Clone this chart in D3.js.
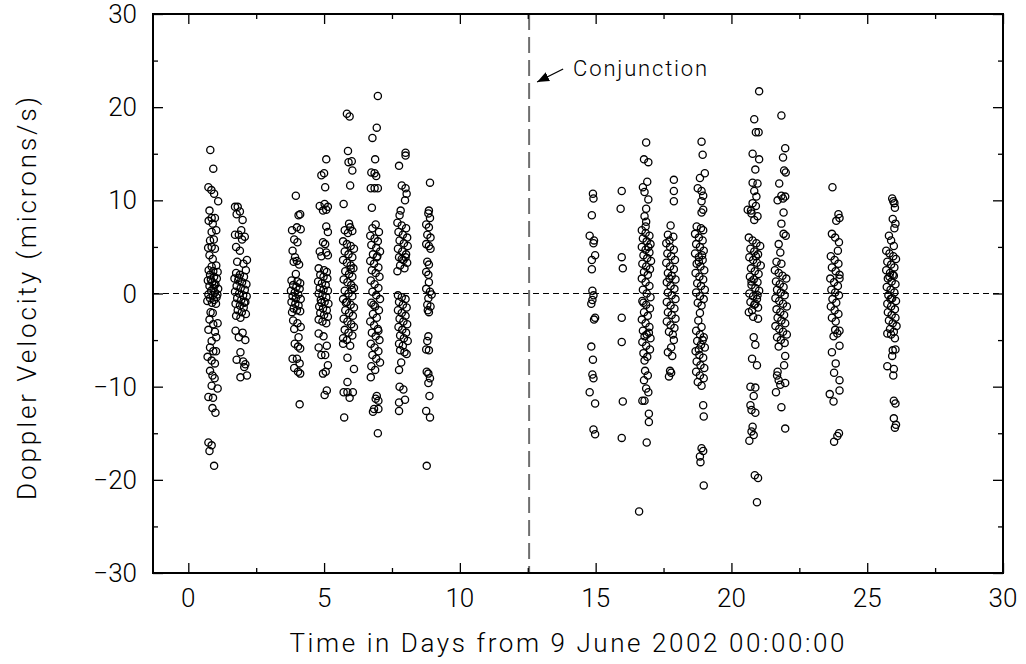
<!DOCTYPE html>
<html>
<head>
<meta charset="utf-8">
<title>Doppler Velocity</title>
<script src="https://cdn.jsdelivr.net/npm/d3@7"></script>
<style>
	body { margin: 0; background: #fff; }
	text { font-family: Roboto, "Liberation Sans", sans-serif; font-weight: 300; fill: #000; }
</style>
</head>
<body>
<div id="vis"></div>
<script type="text/javascript">
// one array per daily tracking pass: [time in days, doppler velocity in microns/s]
var day1 = [[0.81,15.4],[0.92,13.4],[0.74,11.4],[0.85,11.1],[0.95,10.7],[1.1,9.9],[0.78,8.9],[0.86,8.1],[0.98,8.1],[0.75,7.8],[0.9,7.5],[1.03,6.8],[0.86,6.6],
	[0.8,5.7],[0.94,5.8],[0.86,5.0],[0.73,4.9],[0.98,4.8],[0.78,4.1],[0.9,3.7],[1.03,3.0],[0.86,2.9],[0.75,2.5],[0.92,2.4],[1.08,2.3],
	[0.8,2.0],[0.95,1.8],[1.05,1.6],[0.72,1.4],[0.88,1.2],[1.0,1.0],[0.78,0.8],[0.93,0.6],[1.1,0.5],[0.84,0.3],[0.98,0.1],[0.74,-0.1],[0.9,-0.2],[1.04,-0.4],
	[0.8,-0.5],[0.95,-0.7],[0.7,-0.8],[0.87,-1.0],[1.02,-1.1],[0.83,1.5],[0.96,0.9],[1.07,-0.1],
	[0.82,-2.0],[0.9,-2.1],[0.78,-2.8],[0.92,-3.3],[1.08,-3.2],[0.74,-3.9],[0.98,-4.1],[1.03,-4.7],[0.86,-5.1],[0.8,-5.8],[0.92,-6.2],[1.02,-6.2],[0.71,-6.8],
	[0.86,-7.2],[0.98,-7.5],[0.8,-8.3],[0.89,-8.8],[0.97,-9.1],[0.86,-9.9],[1.08,-10.2],[0.74,-11.1],[0.91,-11.2],[0.89,-12.3],[1.0,-12.8],[0.74,-16.0],[0.86,-16.3],[0.78,-16.9],[0.95,-18.5]];
var day2 = [[1.72,9.3],[1.82,9.3],[1.9,8.8],[1.78,8.5],[2.0,7.9],[1.95,6.8],[1.72,6.3],[1.86,6.3],[2.08,6.1],[1.98,5.8],[1.76,5.0],[1.9,4.6],[2.16,3.6],[1.8,3.4],[2.03,3.2],[2.12,2.5],[1.76,2.2],
	[1.9,2.0],[2.05,1.8],[1.7,1.6],[1.84,1.4],[1.98,1.2],[2.14,1.0],[1.78,0.8],[1.93,0.6],[2.08,0.4],[1.72,0.2],[1.87,0.0],[2.02,-0.2],[2.15,-0.3],[1.8,-0.5],[1.95,-0.7],
	[2.1,-0.9],[1.74,-1.1],[1.9,-1.3],[2.04,-1.5],[1.82,-1.8],[1.97,-2.0],[2.12,-2.2],[1.76,-2.4],[1.92,-2.6],[2.06,-1.0],[1.86,1.7],
	[1.74,-4.0],[2.0,-4.2],[1.86,-4.7],[2.1,-5.0],[1.92,-6.3],[2.02,-7.3],[1.78,-7.1],[2.1,-7.6],[2.06,-7.9],[1.92,-9.0],[2.16,-8.8]];
var day4 = [[3.96,10.5],[4.06,8.4],[4.12,8.5],[3.82,6.8],[4.0,7.1],[4.14,6.9],[3.9,5.8],[4.02,5.5],[3.84,4.6],[3.93,3.9],[3.88,3.4],[4.0,3.5],[4.08,3.1],[3.96,2.1],[3.8,1.4],[4.02,1.3],[4.12,1.1],
	[3.86,0.9],[3.98,0.7],[4.1,0.5],[3.78,0.3],[3.92,0.1],[4.05,-0.1],[3.84,-0.3],[3.96,-0.5],[4.14,-0.6],[3.8,-0.9],[3.94,-1.1],[4.06,-1.3],[3.88,-1.6],[4.0,-1.8],[3.82,-2.0],[4.12,-1.9],
	[3.86,-2.9],[4.02,-3.2],[4.14,-3.6],[3.9,-3.8],[4.06,-4.7],[3.92,-5.4],[4.04,-5.7],[4.12,-5.9],[3.84,-7.0],[4.0,-7.0],[4.1,-7.5],[3.9,-8.0],[4.04,-8.4],[4.12,-8.6],[4.1,-11.9]];
var day5 = [[5.08,14.4],[4.9,12.7],[5.0,12.9],[5.04,11.4],[4.84,9.4],[5.02,9.6],[5.14,9.3],[4.96,8.9],[5.08,9.0],[5.08,7.2],[5.14,6.6],[4.96,5.5],[5.04,5.3],[4.84,4.5],[5.08,4.4],[4.9,4.0],[5.14,4.1],[4.8,2.7],[5.0,2.5],[5.1,2.3],
	[4.86,2.0],[4.98,1.8],[5.12,1.6],[4.78,1.3],[4.92,1.1],[5.06,0.9],[4.84,0.6],[4.98,0.4],[5.14,0.3],[4.8,0.0],[4.94,-0.2],[5.08,-0.4],[4.88,-0.7],[5.02,-0.9],[5.16,-1.1],
	[4.82,-1.4],[4.96,-1.6],[5.1,-1.8],[4.86,-2.1],[5.0,-2.3],[5.14,-2.5],[4.8,-2.8],[4.94,-3.0],[5.08,-3.2],[4.9,-1.0],
	[4.8,-4.3],[4.98,-4.6],[5.1,-5.6],[4.8,-5.8],[4.9,-6.6],[5.04,-6.6],[5.14,-7.7],[4.96,-8.6],[5.06,-8.4],[5.1,-10.4],[5.02,-10.9]];
var day6 = [[5.84,19.3],[5.94,19.0],[5.88,15.3],[5.9,14.1],[6.02,14.2],[6.04,13.2],[5.96,11.6],[5.72,9.6],[5.92,7.5],[5.96,7.1],[5.76,6.8],[5.88,6.5],[6.04,6.7],
	[5.7,5.6],[5.84,5.3],[5.98,5.1],[6.1,4.8],[5.76,4.5],[5.9,4.2],[6.04,3.9],[5.7,3.6],[5.84,3.3],[5.98,3.0],[6.08,2.7],[5.78,2.4],[5.92,2.1],[6.04,1.8],[5.72,1.5],
	[5.86,1.2],[6.0,0.9],[6.1,0.6],[5.76,0.3],[5.9,0.0],[6.04,-0.3],[5.7,-0.6],[5.84,-0.9],[5.98,-1.2],[6.1,-1.5],[5.78,-1.8],[5.92,-2.1],[6.06,-2.4],[5.72,-2.7],
	[5.86,-3.0],[6.0,-3.3],[6.1,-3.6],[5.76,-3.9],[5.9,-4.2],[6.04,-4.5],[5.7,-4.8],[5.84,-5.0],[5.98,2.6],[5.8,-1.0],[6.02,0.4],
	[5.96,-5.6],[5.7,-5.4],[5.86,-6.9],[6.1,-8.1],[5.86,-9.5],[5.72,-10.6],[5.86,-10.6],[6.06,-10.6],[5.94,-11.2],[5.74,-13.3]];
var day7 = [[6.98,21.2],[6.94,17.8],[6.78,16.7],[6.88,14.4],[6.74,13.0],[6.86,12.9],[6.92,12.6],[6.72,11.3],[6.86,11.3],[6.98,11.3],[6.76,9.2],
	[6.9,7.4],[6.78,7.0],[7.02,6.6],[6.7,6.2],[6.86,5.9],[6.98,5.6],[6.74,5.2],[6.92,4.9],[7.06,4.5],[6.8,4.2],[6.94,3.9],[6.7,3.5],[6.84,3.2],[7.0,2.8],[6.76,2.5],
	[6.9,2.2],[7.04,1.8],[6.72,1.4],[6.86,1.0],[7.0,0.6],[6.78,0.2],[6.92,-0.2],[7.06,-0.6],[6.74,-1.0],[6.88,-1.4],[7.02,-1.8],[6.8,-2.2],[6.94,-2.6],[6.7,-3.0],
	[6.84,-3.4],[6.98,-3.8],[6.76,-4.2],[6.9,-4.6],[7.04,-5.0],[6.72,-5.4],[6.86,-5.8],[7.0,-6.2],[6.78,-6.6],[6.92,-7.0],[7.06,-7.4],[6.74,-7.8],[6.88,-8.2],
	[6.96,4.0],[6.82,-1.2],[7.0,-4.0],
	[6.72,-9.0],[6.94,-11.0],[6.9,-11.3],[7.0,-11.5],[6.84,-12.4],[7.0,-12.4],[6.8,-12.7],[6.98,-15.0]];
var day8 = [[8.0,15.1],[8.0,14.8],[7.76,13.7],[7.86,11.6],[8.0,11.3],[8.04,10.7],[7.98,10.0],[7.82,8.9],[7.78,8.4],
	[7.7,7.6],[7.86,7.3],[8.02,7.0],[7.74,6.6],[7.9,6.3],[8.06,6.0],[7.78,5.7],[7.94,5.4],[8.08,5.1],[7.72,4.8],[7.88,4.5],[8.02,4.2],[7.76,3.9],[7.92,3.6],
	[8.06,3.3],[7.8,3.0],[7.96,2.7],[7.7,2.4],[8.0,3.9],[7.86,3.7],
	[7.72,-0.2],[7.86,-0.4],[8.0,-0.6],[7.76,-0.9],[7.9,-1.2],[8.04,-1.5],[7.72,-1.8],[7.86,-2.1],[8.0,-2.4],[7.78,-2.7],[7.92,-3.0],[8.06,-3.3],[7.74,-3.6],
	[7.88,-3.9],[8.02,-4.2],[7.8,-4.5],[7.94,-4.8],[8.08,-5.1],[7.76,-5.4],[7.9,-5.6],
	[7.8,-6.1],[7.96,-6.3],[8.04,-6.5],[7.84,-7.4],[7.76,-8.2],[7.78,-10.0],[7.92,-10.3],[7.76,-11.7],[7.98,-11.4],[7.76,-12.6]];
var day9 = [[8.9,11.9],[8.86,8.9],[8.84,8.6],[8.9,8.1],[8.76,7.4],[8.86,7.1],[8.8,6.3],[8.92,6.0],[8.76,5.3],[8.86,5.1],[8.92,4.8],[8.8,3.4],[8.86,3.1],[8.76,2.3],
	[8.84,2.0],[8.86,1.2],[8.76,0.5],[8.9,0.2],[8.96,-0.1],[8.84,-0.5],[8.8,-1.2],[8.92,-1.4],[8.82,-1.8],[8.86,-2.0],[8.84,-4.6],[8.8,-5.1],[8.76,-6.0],[8.86,-6.1],
	[8.78,-8.4],[8.84,-8.6],[8.9,-9.1],[8.84,-9.6],[8.88,-11.0],[8.76,-12.6],[8.9,-13.3],[8.78,-18.5]];
var day15 = [[14.9,10.7],[14.92,10.2],[14.86,8.4],[14.78,6.2],[14.94,5.7],[14.92,5.4],[14.86,3.6],[14.98,4.1],[14.86,2.6],[14.88,0.3],[14.92,-0.2],[14.88,-0.7],
	[14.84,-1.1],[14.98,-2.6],[14.94,-2.8],[14.84,-5.7],[14.9,-7.1],[14.88,-8.7],[14.92,-9.1],[14.78,-10.6],[14.98,-11.8],[14.92,-14.6],[14.98,-15.1]];
var day16 = [[15.96,11.0],[15.92,9.1],[15.96,3.9],[16.0,2.7],[15.96,-2.6],[15.96,-5.2],[16.0,-11.6],[15.96,-15.5]];
var day17 = [[16.86,16.2],[16.78,14.4],[16.94,14.1],[16.9,12.0],[16.74,11.4],[16.8,10.9],[16.94,10.1],[16.86,9.1],[16.8,8.3],[16.86,7.7],[16.84,7.2],
	[16.7,6.8],[16.84,6.5],[16.98,6.2],[16.74,5.9],[16.88,5.6],[17.02,5.3],[16.7,5.0],[16.84,4.7],[16.98,4.4],[16.76,4.1],[16.9,3.8],[17.04,3.5],[16.72,3.2],
	[16.86,2.9],[17.0,2.6],[16.78,2.3],[16.92,2.0],[16.7,1.6],[16.84,1.2],[16.98,0.8],[16.74,0.4],[16.88,0.0],[17.02,-0.4],[16.72,-0.8],[16.86,-1.2],[17.0,-1.6],
	[16.78,-2.0],[16.92,-2.4],[16.7,-2.8],[16.84,-3.2],[16.98,-3.6],[16.74,-4.0],[16.88,-4.4],[17.02,-4.8],[16.72,-5.2],[16.86,-5.6],[17.0,-6.0],[16.76,-6.4],
	[16.9,-6.8],[16.8,-7.2],[16.96,-4.2],[16.8,-4.6],[16.94,5.0],[16.76,-1.0],
	[16.82,-8.3],[16.92,-8.8],[16.78,-9.3],[16.86,-10.2],[16.94,-10.6],[16.72,-11.5],[16.8,-11.5],[16.96,-12.9],[16.96,-13.8],[16.88,-16.0],[16.6,-23.4]];
var day18 = [[17.88,12.2],[17.88,11.0],[17.88,9.9],[17.76,7.3],[17.66,6.3],[17.86,6.1],[17.72,5.7],
	[17.6,5.4],[17.74,5.0],[17.88,4.7],[17.64,4.3],[17.78,4.0],[17.92,3.6],[17.6,3.3],[17.74,2.9],[17.88,2.6],[17.66,2.2],[17.8,1.9],[17.94,1.5],[17.62,1.2],
	[17.76,0.8],[17.9,0.5],[17.66,0.1],[17.8,-0.2],[17.94,-0.6],[17.62,-0.9],[17.76,-1.3],[17.9,-1.6],[17.66,-2.0],[17.8,-2.3],[17.94,-2.7],[17.62,-3.0],
	[17.76,-3.4],[17.9,-3.7],[17.7,-4.1],[17.84,-4.4],[17.72,1.6],
	[17.88,-5.0],[17.78,-5.8],[17.66,-6.3],[17.82,-6.7],[17.74,-8.3],[17.78,-8.5],[17.7,-8.9]];
var day19 = [[18.9,16.3],[18.94,14.9],[19.02,12.9],[18.84,12.4],[18.76,11.3],[18.9,11.0],[18.96,10.5],[18.9,9.9],[18.96,9.0],[18.9,8.7],[18.72,7.2],[18.88,7.0],[18.96,6.8],
	[18.66,6.4],[18.8,6.0],[18.94,5.7],[18.7,5.3],[18.84,5.0],[18.98,4.6],[18.66,4.3],[18.8,3.9],[18.94,3.6],[18.72,3.2],[18.86,2.9],[19.0,2.5],[18.68,2.2],
	[18.82,1.8],[18.96,1.5],[18.74,1.1],[18.88,0.8],[19.02,0.4],[18.7,0.1],[18.84,-0.3],[18.98,-0.6],[18.76,-1.0],[18.9,-1.3],[18.8,3.4],[18.92,4.1],
	[18.84,-2.1],[18.78,-2.9],[18.9,-3.6],
	[18.7,-4.0],[18.84,-4.4],[18.98,-4.7],[18.74,-5.1],[18.88,-5.5],[19.02,-5.8],[18.68,-6.2],[18.82,-6.6],[18.96,-6.9],[18.72,-7.3],[18.86,-7.7],[19.0,-8.0],
	[18.7,-8.4],[18.84,-8.8],[18.98,-9.1],[18.76,-9.5],[18.9,-9.9],[18.8,-6.0],[18.94,-5.0],
	[18.96,-12.0],[18.98,-13.2],[18.9,-16.6],[18.96,-16.9],[18.84,-17.5],[18.86,-18.1],[18.98,-20.6]];
var day21 = [[21.02,21.7],[20.84,18.7],[20.9,17.3],[21.0,17.3],[20.78,15.0],[21.02,14.4],[20.88,13.3],[20.78,11.9],[20.96,11.8],[20.84,11.0],[20.92,10.4],
	[20.78,9.7],[20.9,9.4],[20.6,9.0],[20.72,8.9],[20.74,8.6],[20.96,8.3],[20.84,7.9],
	[20.64,6.0],[20.78,5.7],[20.92,5.4],[21.06,5.1],[20.7,4.8],[20.84,4.5],[20.98,4.2],[20.66,3.9],[20.8,3.6],[20.94,3.3],[21.08,3.0],[20.72,2.7],[20.86,2.4],
	[21.0,2.1],[20.68,1.8],[20.82,1.5],[20.96,1.2],[20.74,0.9],[20.88,0.6],[21.02,0.3],[20.66,0.0],[20.8,-0.3],[20.94,-0.6],[20.7,-0.9],[20.84,-1.2],[20.98,-1.5],
	[20.76,-1.8],[20.9,4.0],[20.74,1.3],[20.96,-0.2],
	[20.88,-1.1],[20.64,-2.0],[20.8,-2.5],[20.98,-2.7],[20.82,-4.7],[20.88,-5.5],[20.76,-7.0],[20.94,-7.7],[20.7,-10.0],[20.88,-10.1],[20.82,-11.0],[20.7,-12.0],
	[20.74,-12.5],[20.88,-12.8],[20.78,-14.3],[20.74,-14.8],[20.82,-15.2],[20.66,-15.8],[20.86,-19.5],[20.98,-19.8],[20.94,-22.4]];
var day22 = [[21.84,19.1],[21.98,15.6],[21.9,14.6],[21.94,13.2],[22.0,13.0],[21.76,11.8],[21.84,10.5],[21.98,10.4],[21.9,10.2],[21.7,10.0],[21.92,8.7],[21.84,7.5],
	[21.92,6.4],[22.0,6.2],[21.74,5.3],[21.8,4.4],[21.66,3.4],[21.84,3.2],
	[21.6,2.5],[21.74,2.2],[21.88,1.9],[22.02,1.6],[21.64,1.3],[21.78,1.0],[21.92,0.7],[21.68,0.4],[21.82,0.1],[21.96,-0.2],[21.62,-0.5],[21.76,-0.8],[21.9,-1.1],
	[22.04,-1.4],[21.66,-1.7],[21.8,-2.0],[21.94,-2.3],[21.7,-2.6],[21.84,-2.9],[21.98,-3.2],[21.62,-3.5],[21.76,-3.8],[21.9,-4.1],[22.04,-4.4],[21.68,-4.7],
	[21.82,-5.0],[21.96,-5.3],[21.74,-5.7],
	[21.98,-6.7],[21.94,-7.7],[21.7,-8.4],[21.68,-8.8],[21.74,-9.3],[21.8,-9.8],[21.98,-9.6],[21.64,-10.6],[21.84,-12.2],[21.98,-14.5]];
var day24 = [[23.72,11.4],[23.94,8.5],[23.98,8.1],[23.86,7.8],[23.7,6.4],[23.82,6.0],[23.96,5.5],[23.92,4.6],
	[23.66,4.0],[23.8,3.6],[23.94,3.2],[23.7,2.8],[23.84,2.4],[23.98,2.0],[23.64,1.6],[23.78,1.2],[23.92,0.8],[23.68,0.4],[23.82,0.1],[23.96,-0.2],[23.72,-0.6],
	[23.86,-1.0],[23.66,-1.4],[23.8,-1.8],[23.94,-2.2],[23.7,-2.6],[23.84,-3.0],[23.98,1.6],
	[23.82,-3.9],[23.98,-4.0],[23.9,-4.3],[23.76,-4.6],[23.98,-5.6],[23.7,-6.3],[23.84,-7.5],[23.78,-8.5],[23.98,-9.3],[23.62,-10.8],[23.98,-10.4],[23.76,-11.6],
	[23.96,-15.0],[23.9,-15.3],[23.78,-15.9]];
var day26 = [[25.92,10.2],[25.96,9.9],[26.0,9.7],[26.02,9.2],[25.94,8.0],[26.04,7.5],[26.0,7.0],[25.8,6.2],[25.88,5.7],[25.98,5.1],
	[25.7,4.6],[25.82,4.3],[25.96,4.0],[26.06,3.7],[25.74,3.4],[25.88,3.1],[26.0,2.8],[25.7,2.5],[25.84,2.2],[25.98,1.9],[25.76,1.6],[25.9,1.3],[26.04,1.0],
	[25.72,0.7],[25.86,0.4],[26.0,0.1],[25.78,-0.2],[25.92,-0.5],[26.06,-0.8],[25.74,-1.1],[25.88,-1.4],[26.02,-1.7],[25.76,-2.0],[25.9,-2.3],[26.04,-2.6],
	[25.8,-2.9],[25.94,-3.2],[26.08,-3.5],[25.84,-3.8],[25.98,-4.1],[25.88,-4.4],[26.02,-4.8],[25.82,1.8],[25.94,2.0],[25.86,-0.6],
	[25.74,-4.3],[25.94,-6.1],[26.04,-6.0],[25.92,-6.7],[25.74,-7.8],[25.98,-8.1],[25.96,-8.8],[25.98,-11.5],[26.04,-11.8],[25.98,-13.4],[26.06,-14.1],[26.02,-14.4]];

var passes = [day1, day2, day4, day5, day6, day7, day8, day9, day15, day16, day17, day18, day19, day21, day22, day24, day26];

var xTicks = [0, 5, 10, 15, 20, 25, 30];
var yTicks = [-30, -20, -10, 0, 10, 20, 30];
var conjunctionDay = 12.55;
var conjunctionLabel = "Conjunction";
var xTitle = "Time in Days from 9 June 2002 00:00:00";
var yTitle = "Doppler Velocity (microns/s)";

var W = 1026, H = 664;
var margin = {top: 14, right: 23, bottom: 91, left: 153};
var pw = W - margin.left - margin.right;
var ph = H - margin.top - margin.bottom;

var svg = d3.select("#vis").append("svg").attr("width", W).attr("height", H);
svg.append("rect").attr("width", W).attr("height", H).attr("fill", "#fff");
var g = svg.append("g").attr("transform", "translate(" + margin.left + "," + margin.top + ")");

var x = d3.scaleLinear().domain([-1.3, 30]).range([0, pw]);
var y = d3.scaleLinear().domain([-30, 30]).range([ph, 0]);

function fmt(d) { return d < 0 ? "\u2212" + Math.abs(d) : String(d); }

// zero line
g.append("line")
	.attr("x1", 0).attr("x2", pw)
	.attr("y1", y(0)).attr("y2", y(0))
	.attr("stroke", "#000").attr("stroke-width", 1).attr("stroke-dasharray", "6,4");

// conjunction marker
g.append("line")
	.attr("x1", x(conjunctionDay)).attr("x2", x(conjunctionDay))
	.attr("y1", 0).attr("y2", ph)
	.attr("stroke", "#6e6e6e").attr("stroke-width", 2).attr("stroke-dasharray", "16,7");

// scatter
var allPoints = [].concat.apply([], passes);
g.append("g").selectAll("circle").data(allPoints)
	.enter().append("circle")
	.attr("cx", function(d) { return x(d[0]); })
	.attr("cy", function(d) { return y(d[1]); })
	.attr("r", 3.6)
	.attr("fill", "none")
	.attr("stroke", "#000")
	.attr("stroke-width", 1.3);

// axes: ticks on all four sides pointing inward, majors twice as long
var xMinor = d3.range(0, 30.1, 2.5);
var yMinor = d3.range(-30, 30.1, 5);
function tickLen(d, ticks) { return ticks.indexOf(d) >= 0 ? -10 : -5; }
function addAxis(axis, vals, ticks, tf) {
	var ag = g.append("g").call(axis.tickValues(vals).tickSize(0).tickFormat(""));
	if (tf) ag.attr("transform", tf);
	ag.select(".domain").remove();
	return ag;
}
addAxis(d3.axisBottom(x), xMinor, xTicks, "translate(0," + ph + ")").selectAll(".tick line")
	.attr("y2", function(d) { return tickLen(d, xTicks); });
addAxis(d3.axisTop(x), xMinor, xTicks, null).selectAll(".tick line")
	.attr("y2", function(d) { return -tickLen(d, xTicks); });
addAxis(d3.axisLeft(y), yMinor, yTicks, null).selectAll(".tick line")
	.attr("x2", function(d) { return -tickLen(d, yTicks); });
addAxis(d3.axisRight(y), yMinor, yTicks, "translate(" + pw + ",0)").selectAll(".tick line")
	.attr("x2", function(d) { return tickLen(d, yTicks); });
g.selectAll(".tick line").attr("stroke", "#000").attr("stroke-width", 1.3);

// frame
g.append("rect").attr("width", pw).attr("height", ph)
	.attr("fill", "none").attr("stroke", "#000").attr("stroke-width", 2);

// tick labels
g.selectAll(".xlab").data(xTicks).enter().append("text")
	.attr("class", "xlab")
	.attr("x", function(d) { return x(d); })
	.attr("y", ph + 34)
	.attr("text-anchor", "middle")
	.attr("font-size", 26)
	.text(fmt);
g.selectAll(".ylab").data(yTicks).enter().append("text")
	.attr("class", "ylab")
	.attr("x", -16)
	.attr("y", function(d) { return y(d) + 9; })
	.attr("text-anchor", "end")
	.attr("font-size", 26)
	.text(fmt);

// titles
g.append("text")
	.attr("x", pw / 2 - 11).attr("y", ph + 79)
	.attr("text-anchor", "middle")
	.attr("font-size", 26)
	.attr("textLength", 555).attr("lengthAdjust", "spacing")
	.text(xTitle);
g.append("text")
	.attr("transform", "translate(" + (-117) + "," + (ph / 2 + 5) + ") rotate(-90)")
	.attr("text-anchor", "middle")
	.attr("font-size", 26)
	.attr("textLength", 403).attr("lengthAdjust", "spacing")
	.text(yTitle);

// conjunction annotation
svg.append("defs").append("marker")
	.attr("id", "arrow").attr("viewBox", "0 0 10 10")
	.attr("refX", 10).attr("refY", 5)
	.attr("markerWidth", 12).attr("markerHeight", 12)
	.attr("markerUnits", "userSpaceOnUse")
	.attr("orient", "auto")
	.append("path").attr("d", "M0,1 L10,5 L0,9 z").attr("fill", "#000");
g.append("line")
	.attr("x1", x(conjunctionDay) + 34).attr("y1", 55)
	.attr("x2", x(conjunctionDay) + 8).attr("y2", 68)
	.attr("stroke", "#000").attr("stroke-width", 1.3)
	.attr("marker-end", "url(#arrow)");
g.append("text")
	.attr("x", x(conjunctionDay) + 44).attr("y", 62)
	.attr("font-size", 22)
	.attr("textLength", 134).attr("lengthAdjust", "spacing")
	.text(conjunctionLabel);
</script>
</body>
</html>
